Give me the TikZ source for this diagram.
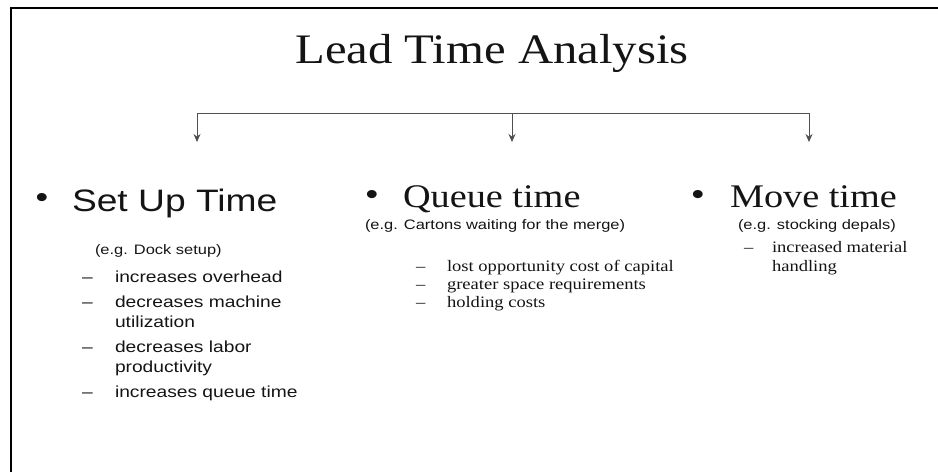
\documentclass[tikz,border=0pt]{standalone}
\usepackage{fontspec}
\usetikzlibrary{arrows.meta}
\newfontfamily\serifw[FakeStretch=1.16]{Liberation Serif}
\newfontfamily\sansw[FakeStretch=1.2]{Liberation Sans}
\definecolor{bracketgray}{RGB}{80,80,80}
\definecolor{inkgray}{RGB}{20,20,20}

\begin{document}
\begin{tikzpicture}[x=1pt, y=-1pt, >={Stealth[length=8pt, width=7pt]}]
	\tikzset{every node/.style={inner sep=0pt, outer sep=0pt, text=inkgray},
		title/.style={anchor=base, font=\serifw\fontsize{42}{48}\selectfont},
		headserif/.style={anchor=base west, font=\serifw\fontsize{33}{38}\selectfont},
		headsans/.style={anchor=base west, font=\sansw\fontsize{31}{35}\selectfont},
		dot/.style={font=\sansw\fontsize{30}{30}\selectfont},
		example/.style={anchor=base west, font=\sansw\fontsize{13.7}{16}\selectfont},
		sansitem/.style={anchor=base west, align=left, font=\sansw\fontsize{16}{20.5}\selectfont},
		serifitem/.style={anchor=base west, align=left, font=\serifw\fontsize{16}{19}\selectfont}}
	\useasboundingbox (0,0) rectangle (938,472);
	\draw[line width=2.2pt] (11,472) -- (11,8) -- (938,8);

	\node[title] (title) at (492,63) {Lead Time Analysis};

	%bracket under the title
	\coordinate (brL) at (197,113);
	\coordinate (brM) at (512,113);
	\coordinate (brR) at (809,113);
	\coordinate (tipL) at (197,142);
	\coordinate (tipM) at (512,142);
	\coordinate (tipR) at (809,142);
	\draw[bracketgray, line width=1pt]
	(brL) -- (brR)
	(brL) edge[->] (tipL)
	(brM) edge[->] (tipM)
	(brR) edge[->] (tipR)
	;

	%set up time (multi-line nodes sit on their last baseline)
	\node[dot] (setup_dot) at (42,200) {\textbullet};
	\node[headsans] (setup) at (72,211) {Set Up Time};
	\node[example] (setup_eg) at (95,254) {(e.g. Dock setup)};
	\node[sansitem] (setup_d1) at (82,282) {\textendash};
	\node[sansitem] (setup_t1) at (115,282) {increases overhead};
	\node[sansitem] (setup_d2) at (82,307) {\textendash};
	\node[sansitem] (setup_t2) at (115,327.5) {decreases machine\\utilization};
	\node[sansitem] (setup_d3) at (82,352) {\textendash};
	\node[sansitem] (setup_t3) at (115,372.5) {decreases labor\\productivity};
	\node[sansitem] (setup_d4) at (82,397) {\textendash};
	\node[sansitem] (setup_t4) at (115,397) {increases queue time};

	%queue time
	\node[dot] (queue_dot) at (372,197) {\textbullet};
	\node[headserif] (queue) at (403,207) {Queue time};
	\node[example] (queue_eg) at (365,229) {(e.g. Cartons waiting for the merge)};
	\node[serifitem] (queue_d1) at (416,271) {\textendash};
	\node[serifitem] (queue_t1) at (447,271) {lost opportunity cost of capital};
	\node[serifitem] (queue_d2) at (416,289) {\textendash};
	\node[serifitem] (queue_t2) at (447,289) {greater space requirements};
	\node[serifitem] (queue_d3) at (416,307) {\textendash};
	\node[serifitem] (queue_t3) at (447,307) {holding costs};

	%move time
	\node[dot] (move_dot) at (698,197) {\textbullet};
	\node[headserif] (move) at (730,207) {Move time};
	\node[example] (move_eg) at (738,229) {(e.g. stocking depals)};
	\node[serifitem] (move_d1) at (744,252) {\textendash};
	\node[serifitem] (move_t1) at (772,271) {increased material\\handling};
\end{tikzpicture}
\end{document}
